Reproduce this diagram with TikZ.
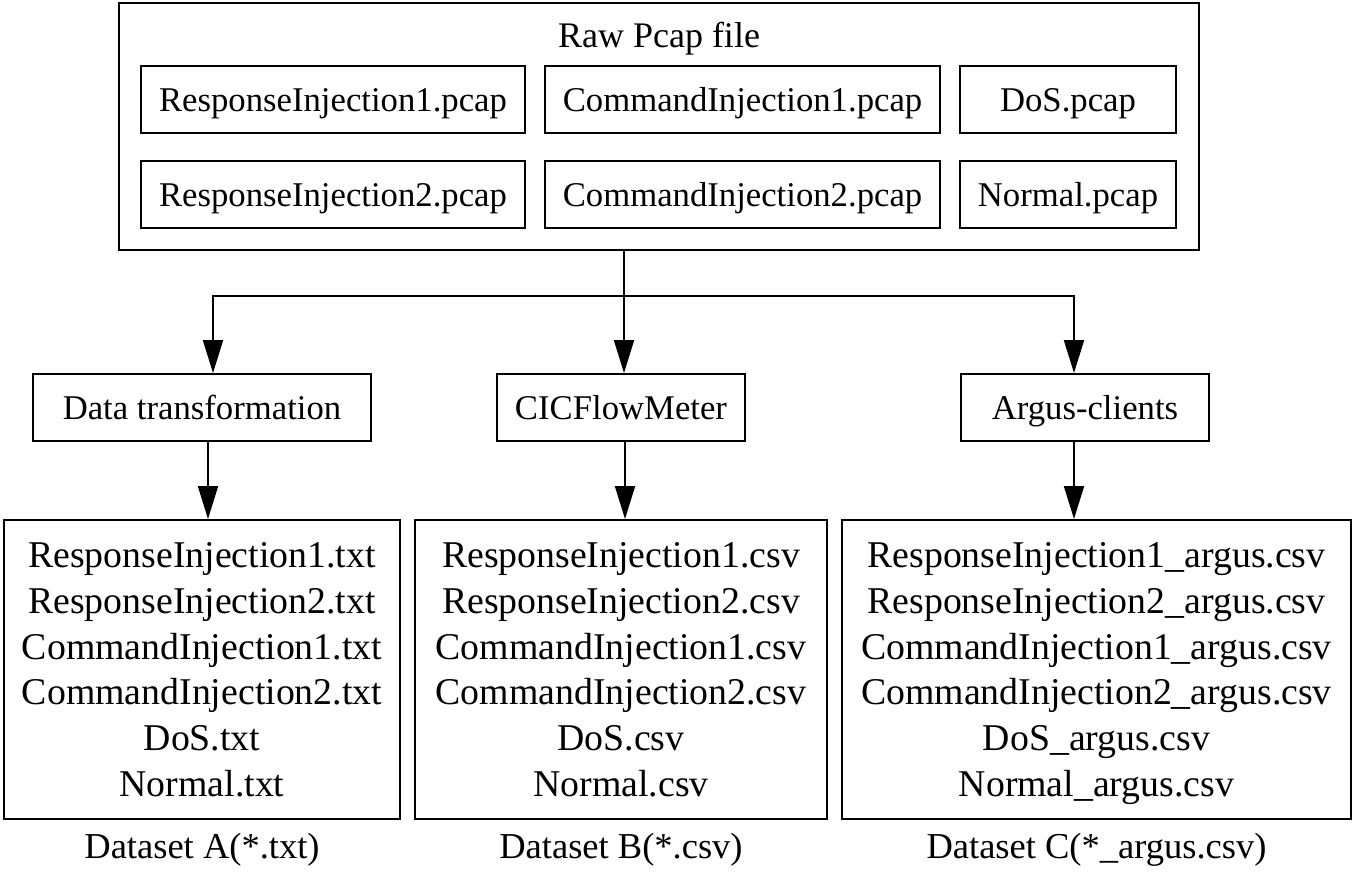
\documentclass[tikz,border=0pt]{standalone}
\usepackage{fontspec}
\setmainfont{Liberation Serif}
\usetikzlibrary{arrows.meta}
\begin{document}
\begin{tikzpicture}[x=1pt,y=-1pt,
  box/.style={draw, line width=2pt, inner sep=0pt, align=center},
  small/.style={font=\fontsize{34.7}{40}\selectfont},
  big/.style={font=\fontsize{37.8}{45.7}\selectfont},
  filebox/.style={box, small, minimum height=67pt, text height=23pt, text depth=0pt},
  procbox/.style={box, small, minimum height=67pt, text height=23pt, text depth=0pt},
  listbox/.style={box, big, minimum height=299pt, text depth=0pt},
  lab/.style={font=\fontsize{36.5}{40}\selectfont, anchor=base},
  arr/.style={line width=2pt, -{Triangle[length=33pt,width=20pt]}},
  ln/.style={line width=2pt}]
\useasboundingbox (0,0) rectangle (1355,873);
% outer box
\node[box, minimum width=1080pt, minimum height=247pt] (raw) at (659,126.5) {};
\node[font=\fontsize{36}{40}\selectfont, anchor=base] (rawt) at (659,47) {Raw Pcap file};
% inner file boxes
\node[filebox, minimum width=384pt] (r1) at (333,99.5) {ResponseInjection1.pcap};
\node[filebox, minimum width=395pt] (c1) at (742.5,99.5) {CommandInjection1.pcap};
\node[filebox, minimum width=216pt] (d1) at (1068,99.5) {DoS.pcap};
\node[filebox, minimum width=384pt] (r2) at (333,194.5) {ResponseInjection2.pcap};
\node[filebox, minimum width=395pt] (c2) at (742.5,194.5) {CommandInjection2.pcap};
\node[filebox, minimum width=216pt] (n2) at (1068,194.5) {Normal.pcap};
% process boxes
\node[procbox, minimum width=338pt] (dt) at (202,407.5) {Data transformation};
\node[procbox, minimum width=248pt] (cic) at (621,407.5) {CICFlowMeter};
\node[procbox, minimum width=248pt] (arg) at (1085,407.5) {Argus-clients};
% dataset boxes
\node[listbox, minimum width=396pt] (da) at (202,669.5) {ResponseInjection1.txt\\ResponseInjection2.txt\\CommandInjection1.txt\\CommandInjection2.txt\\DoS.txt\\Normal.txt};
\node[listbox, minimum width=412pt] (db) at (621,669.5) {ResponseInjection1.csv\\ResponseInjection2.csv\\CommandInjection1.csv\\CommandInjection2.csv\\DoS.csv\\Normal.csv};
\node[listbox, minimum width=509pt] (dc) at (1096.5,669.5) {ResponseInjection1\_argus.csv\\ResponseInjection2\_argus.csv\\CommandInjection1\_argus.csv\\CommandInjection2\_argus.csv\\DoS\_argus.csv\\Normal\_argus.csv};
% labels
\node[lab] (la) at (202,858) {Dataset A(*.txt)};
\node[lab] (lb) at (621,858) {Dataset B(*.csv)};
\node[lab] (lc) at (1096.5,858) {Dataset C(*\_argus.csv)};
% connectors
\coordinate (j) at (624,296);
\coordinate (jl) at (213,296);
\coordinate (jr) at (1074,296);
\draw[ln] (raw.south -| j) -- (j);
\draw[arr] (j) -- (cic.north -| j);
\draw[arr] (j) -- (jl) -- (jl |- dt.north);
\draw[arr] (j) -- (jr) -- (jr |- arg.north);
\coordinate (ka) at (208,0);
\coordinate (kb) at (625,0);
\coordinate (kc) at (1074,0);
\draw[arr] (ka |- dt.south) -- (ka |- da.north);
\draw[arr] (kb |- cic.south) -- (kb |- db.north);
\draw[arr] (kc |- arg.south) -- (kc |- dc.north);
\end{tikzpicture}
\end{document}
